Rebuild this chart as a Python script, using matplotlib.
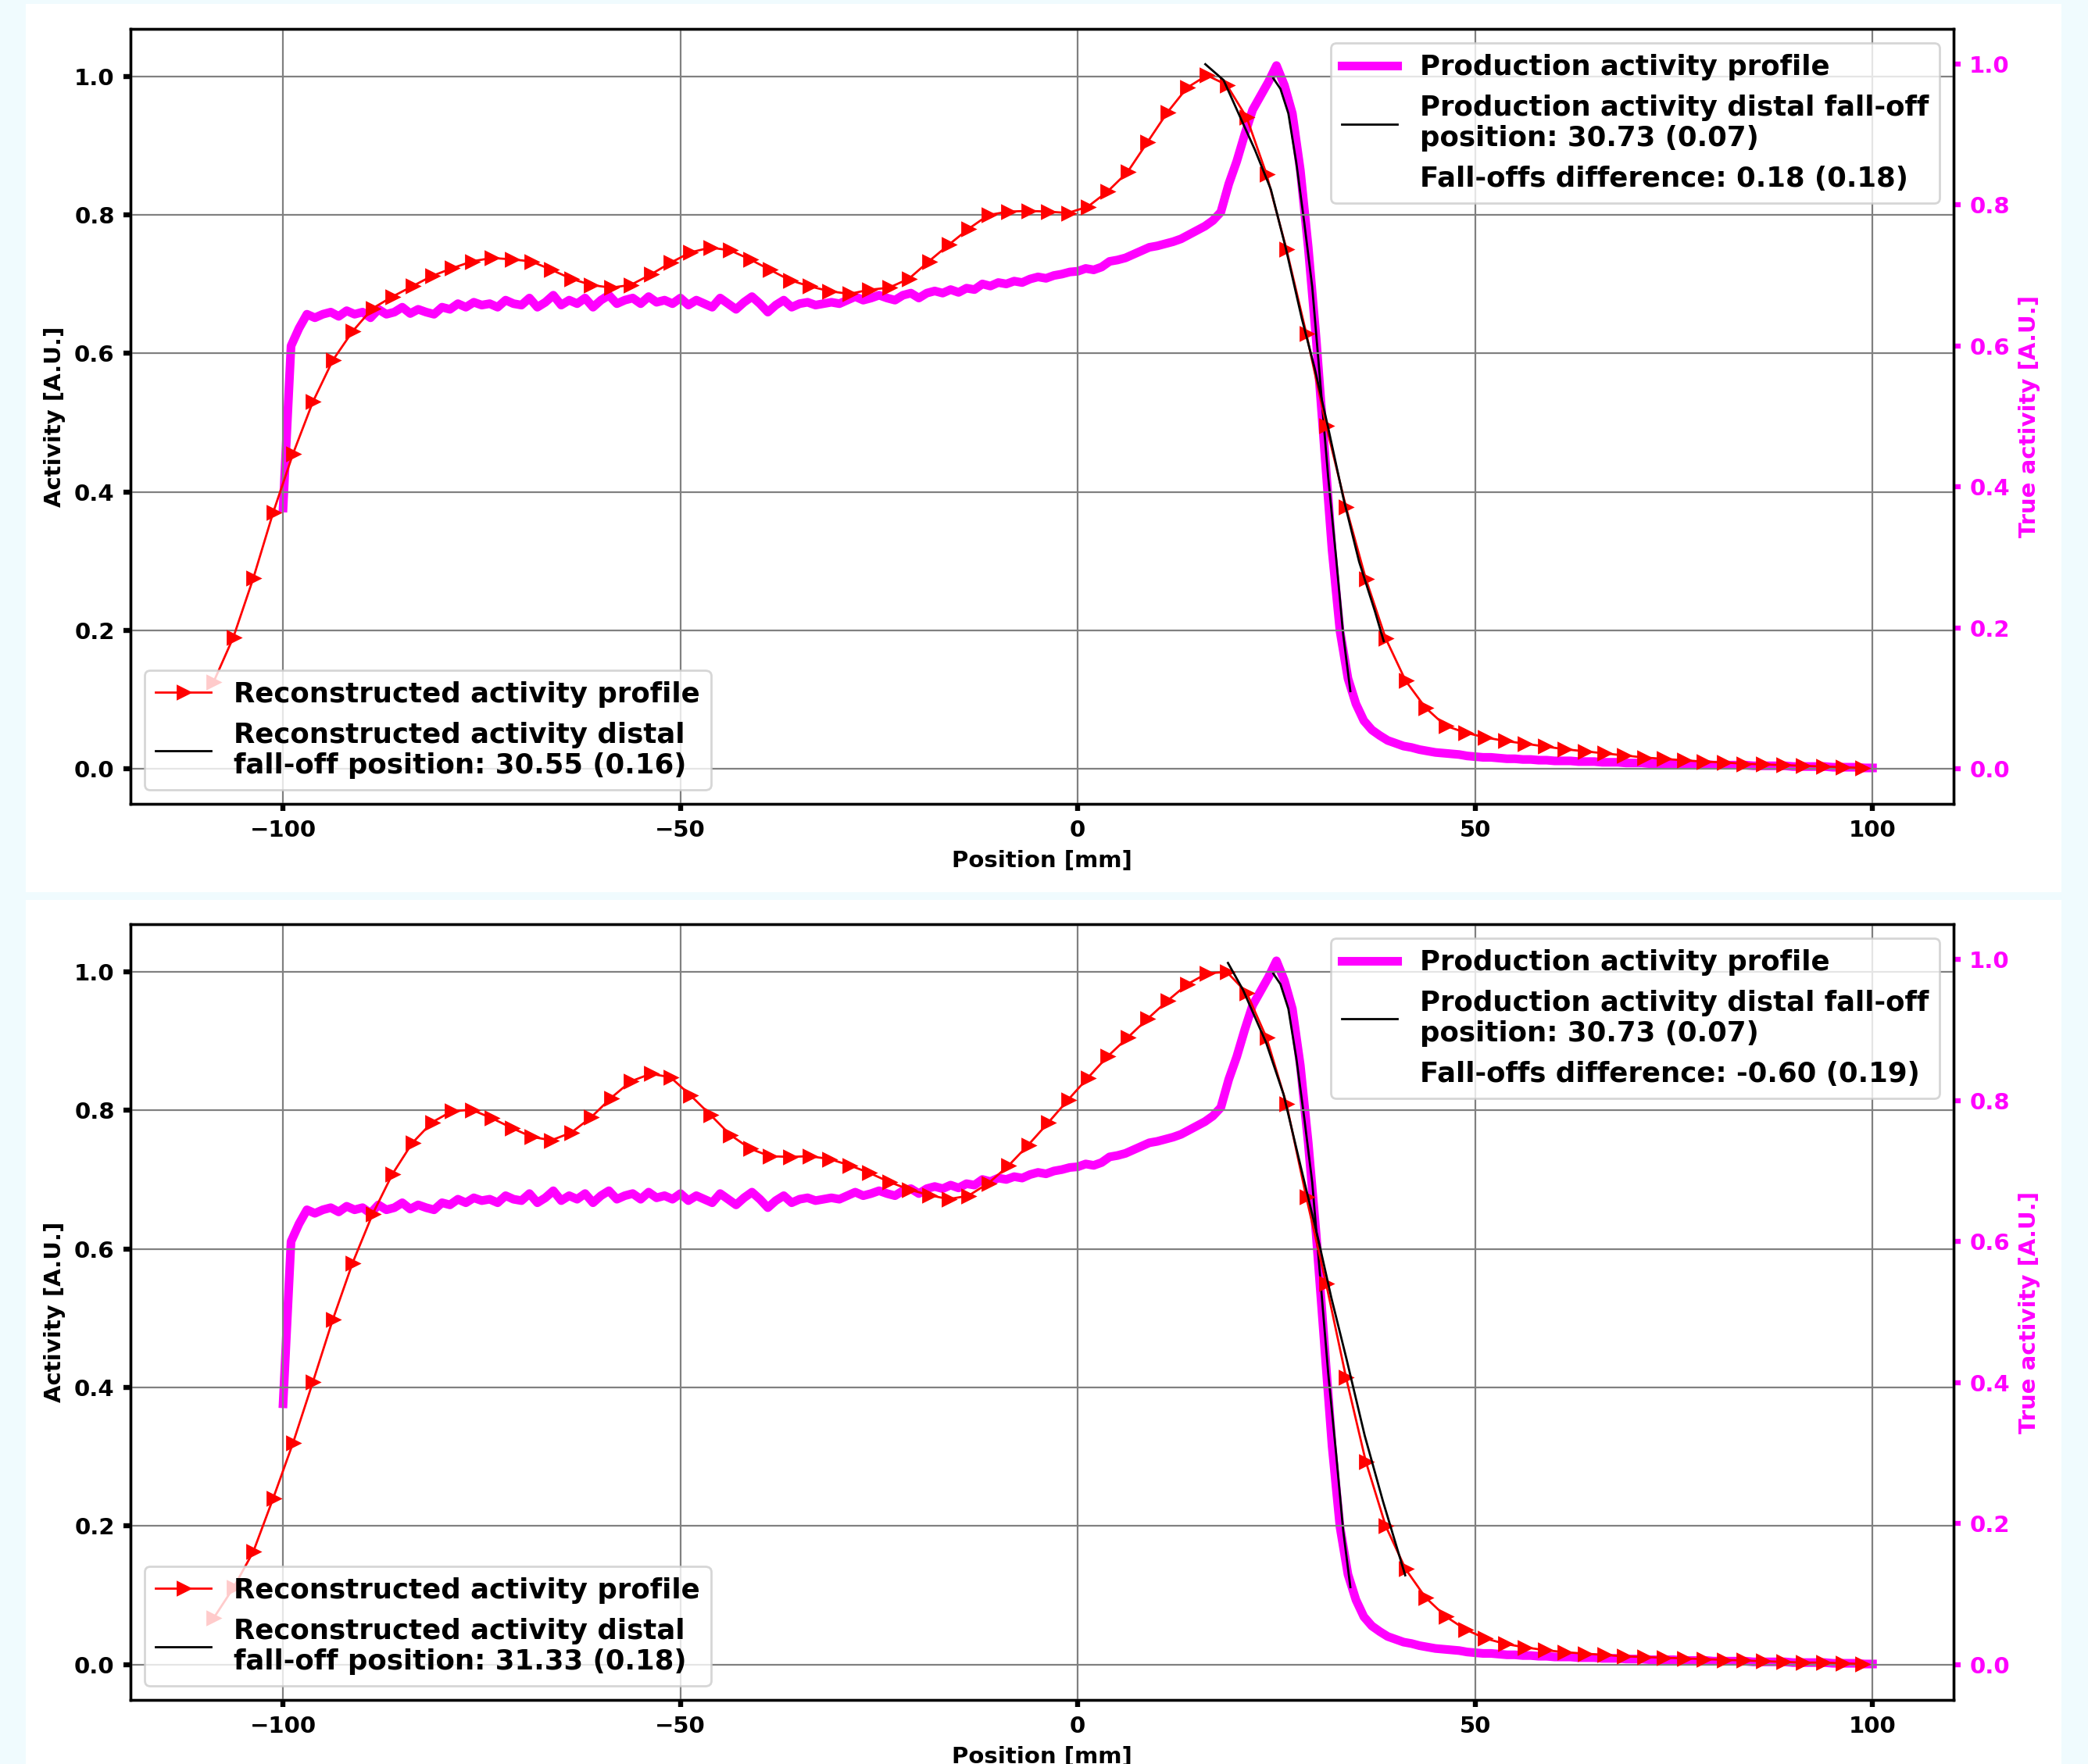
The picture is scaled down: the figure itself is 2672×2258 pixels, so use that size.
#activity profiles: reconstructed vs production
import numpy as np
import matplotlib.pyplot as plt
from matplotlib.patches import Rectangle

plt.rcParams['font.family'] = ['DejaVu Sans']
plt.rcParams['font.weight'] = 'bold'
plt.rcParams['axes.labelweight'] = 'bold'

# --- Reconstructed activity profiles (2.5 mm bins) ---
recon_x = np.arange(-108.75, 100, 2.5)

recon_top = [
    0.125, 0.19, 0.275, 0.37, 0.455, 0.53, 0.59, 0.632, 0.665, 0.682,
    0.697, 0.712, 0.723, 0.733, 0.738, 0.736, 0.733, 0.721, 0.708, 0.699,
    0.695, 0.699, 0.714, 0.731, 0.746, 0.753, 0.749, 0.736, 0.721, 0.706,
    0.697, 0.69, 0.686, 0.692, 0.695, 0.708, 0.733, 0.757, 0.78, 0.80,
    0.805, 0.806, 0.805, 0.803, 0.812, 0.834, 0.862, 0.905, 0.948, 0.984,
    1.002, 0.988, 0.941, 0.859, 0.751, 0.629, 0.496, 0.378, 0.274, 0.188,
    0.127, 0.088, 0.062, 0.052, 0.045, 0.04, 0.036, 0.032, 0.028, 0.025,
    0.022, 0.019, 0.016, 0.014, 0.012, 0.01, 0.009, 0.007, 0.006, 0.005,
    0.004, 0.003, 0.002, 0.001]

recon_bottom = [
    0.067, 0.111, 0.163, 0.24, 0.32, 0.408, 0.498, 0.58, 0.65, 0.708,
    0.753, 0.783, 0.799, 0.801, 0.789, 0.775, 0.762, 0.757, 0.768, 0.79,
    0.818, 0.842, 0.853, 0.848, 0.822, 0.794, 0.765, 0.745, 0.734, 0.733,
    0.734, 0.73, 0.721, 0.71, 0.697, 0.686, 0.678, 0.672, 0.677, 0.695,
    0.72, 0.75, 0.782, 0.815, 0.847, 0.878, 0.905, 0.932, 0.958, 0.982,
    0.998, 1.0, 0.97, 0.905, 0.81, 0.675, 0.55, 0.415, 0.293, 0.2,
    0.138, 0.097, 0.07, 0.051, 0.038, 0.03, 0.025, 0.021, 0.018, 0.016,
    0.014, 0.012, 0.011, 0.01, 0.009, 0.008, 0.007, 0.006, 0.005, 0.004,
    0.003, 0.003, 0.002, 0.001]

# --- Production (true) activity profile, 1 mm steps ---
prod_x = np.arange(-100, 101, 1)
prod_y = [
    0.37, 0.60, 0.625, 0.645, 0.64, 0.645, 0.648, 0.642, 0.65, 0.645,
    0.648, 0.64, 0.652, 0.645, 0.648, 0.655, 0.646, 0.652, 0.648, 0.645,
    0.655, 0.652, 0.66, 0.655, 0.662, 0.658, 0.66, 0.655, 0.665, 0.66,
    0.658, 0.668, 0.655, 0.662, 0.672, 0.658, 0.665, 0.66, 0.668, 0.655,
    0.665, 0.672, 0.66, 0.665, 0.668, 0.66, 0.67, 0.662, 0.665, 0.66,
    0.668, 0.658, 0.665, 0.66, 0.655, 0.668, 0.66, 0.652, 0.662, 0.67,
    0.66, 0.648, 0.658, 0.665, 0.655, 0.66, 0.662, 0.658, 0.66, 0.662,
    0.66, 0.665, 0.67, 0.665, 0.668, 0.672, 0.668, 0.665, 0.672, 0.675,
    0.668, 0.675, 0.678, 0.675, 0.68, 0.676, 0.682, 0.68, 0.688, 0.685,
    0.69, 0.688, 0.692, 0.69, 0.695, 0.698, 0.696, 0.70, 0.702, 0.705,
    0.706, 0.71, 0.708, 0.712, 0.72, 0.722, 0.725, 0.73, 0.735, 0.74,
    0.742, 0.745, 0.748, 0.752, 0.758, 0.764, 0.77, 0.778, 0.79, 0.83,
    0.862, 0.90, 0.935, 0.955, 0.975, 0.998, 0.97, 0.93, 0.85, 0.74,
    0.61, 0.46, 0.31, 0.195, 0.128, 0.092, 0.068, 0.055, 0.047, 0.04,
    0.036, 0.032, 0.03, 0.027, 0.025, 0.023, 0.022, 0.021, 0.02, 0.018,
    0.017, 0.016, 0.016, 0.015, 0.014, 0.014, 0.013, 0.013, 0.012, 0.012,
    0.011, 0.011, 0.011, 0.010, 0.010, 0.010, 0.009, 0.009, 0.009, 0.008,
    0.008, 0.008, 0.007, 0.007, 0.007, 0.007, 0.006, 0.006, 0.006, 0.006,
    0.005, 0.005, 0.005, 0.005, 0.005, 0.004, 0.004, 0.004, 0.004, 0.004,
    0.003, 0.003, 0.003, 0.003, 0.003, 0.002, 0.002, 0.002, 0.002, 0.001,
    0.001]

# distal fall-off fits
prod_fit_x = [24.6, 25.5, 26.5, 27.5, 28.5, 29.5, 30.5, 31.5, 32.5, 33.4, 34.3]
prod_fit_y = [0.98, 0.965, 0.93, 0.86, 0.775, 0.684, 0.55, 0.415, 0.30, 0.19, 0.11]

fit_top_x = [16.05, 18.35, 20.3, 22.3, 24.3, 26.2, 28.2, 29.8, 31.5, 33.4, 35.4, 37.4, 38.5]
fit_top_y = [1.018, 0.995, 0.945, 0.894, 0.837, 0.751, 0.65, 0.579, 0.493, 0.392, 0.299, 0.227, 0.184]

fit_bottom_x = [18.9, 20.8, 23.7, 25.9, 28.2, 30.2, 31.9, 33.8, 36.1, 38.4, 41.2]
fit_bottom_y = [1.013, 0.974, 0.898, 0.823, 0.712, 0.617, 0.53, 0.442, 0.331, 0.236, 0.129]

recon_fit_labels = ["Reconstructed activity distal\nfall-off position: 30.55 (0.16)",
                    "Reconstructed activity distal\nfall-off position: 31.33 (0.18)"]
diff_labels = ["Fall-offs difference: 0.18 (0.18)",
               "Fall-offs difference: -0.60 (0.19)"]

xticks = [-100, -50, 0, 50, 100]
yticks = [0.0, 0.2, 0.4, 0.6, 0.8, 1.0]

# --- Figure ---
fig = plt.figure(figsize=(13.36, 11.29), dpi=200, facecolor='#f0fbfe')
# white panels of the two stacked figures
for y0, h in [(0.4942, 0.5036), (0.0, 0.4898)]:
    fig.patches.append(Rectangle((0.01235, y0), 0.975, h, transform=fig.transFigure,
                                 facecolor='white', edgecolor='none', zorder=-1))


def draw_panel(rect, recon_y, fit_x, fit_y, fit_label, diff_label):
    ax = fig.add_axes(rect)
    ax2 = ax.twinx()
    ax.set_zorder(ax2.get_zorder() + 1)
    ax.patch.set_visible(False)

    p1, = ax2.plot(prod_x, prod_y, color='magenta', lw=4, label='Production activity profile')
    p2, = ax2.plot(prod_fit_x, prod_fit_y, color='k', lw=1,
                   label='Production activity distal fall-off\nposition: 30.73 (0.07)')
    p3, = ax2.plot([], [], ' ', label=diff_label)

    r1, = ax.plot(recon_x, recon_y, color='red', lw=1, marker='>', ms=6,
                  label='Reconstructed activity profile')
    r2, = ax.plot(fit_x, fit_y, 'k-', lw=1, label=fit_label)

    ax.set_xlim(-119.2, 110.2)
    ax.set_ylim(-0.051, 1.069)
    ax2.set_ylim(-0.05, 1.05)
    ax.set_xticks(xticks)
    ax.set_yticks(yticks)
    ax2.set_yticks(yticks)

    ax.grid(True, color='gray', lw=0.8)
    ax.tick_params(direction='out', length=3.3, width=2.3, labelsize=10.5, pad=4)
    ax2.tick_params(direction='out', length=3.3, width=2.3, labelsize=10.5, pad=4,
                    colors='magenta')
    for a in (ax, ax2):
        for s in a.spines.values():
            s.set_linewidth(1.2)

    ax.set_xlabel('Position [mm]', fontsize=10.5)
    ax.set_ylabel('Activity [A.U.]', fontsize=10.5)
    ax2.set_ylabel('True activity [A.U.]', fontsize=10.5, color='magenta')

    leg1 = ax.legend(handles=[r1, r2], loc='lower left', fontsize=12.8)
    ax.add_artist(leg1)
    ax.legend(handles=[p1, p2, p3], loc='upper right', fontsize=12.8)


draw_panel([0.0625, 0.5443, 0.8731, 0.4393], recon_top, fit_top_x, fit_top_y,
           recon_fit_labels[0], diff_labels[0])
draw_panel([0.0625, 0.0363, 0.8731, 0.4398], recon_bottom, fit_bottom_x, fit_bottom_y,
           recon_fit_labels[1], diff_labels[1])

fig.savefig('out.png', dpi=200, facecolor=fig.get_facecolor())
